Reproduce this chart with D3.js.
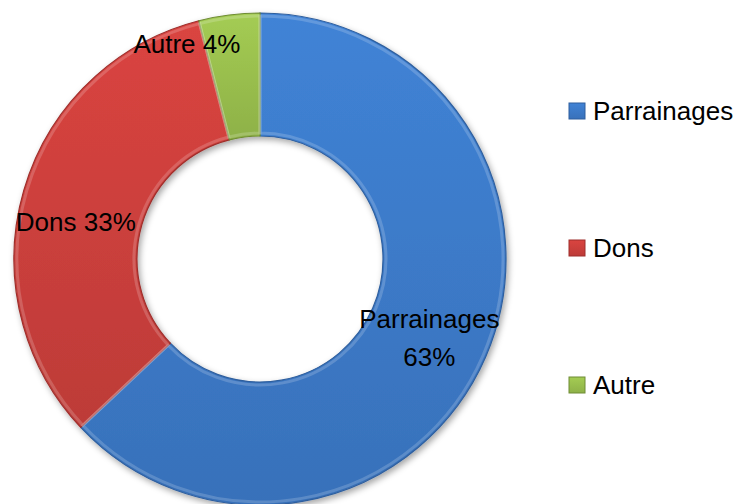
<!DOCTYPE html>
<html>
<head>
<meta charset="utf-8">
<script src="https://cdn.jsdelivr.net/npm/d3@7"></script>
<style>
  body { margin: 0; background: #fff; }
  svg { display: block; font-family: "Liberation Sans", Arial, sans-serif; }
</style>
</head>
<body>
<svg id="drawing_region"></svg>
<script>
// chart data
const categories = ["Parrainages", "Dons", "Autre"];
const values = [63, 33, 4];
const colors = ["#3d7ccb", "#cf403d", "#9bc14f"];
const darkColors = ["#2f5f9e", "#9e2f2c", "#6f8c34"];

const config = {
    width: 734,
    height: 504,
    cx: 260,
    cy: 259,
    outer: 246,
    inner: 123
};

const svg = d3.select('#drawing_region')
    .attr('width', config.width)
    .attr('height', config.height);

const defs = svg.append('defs');

// soft shadow like the Excel bevel style
const shadow = defs.append('filter').attr('id', 'shadow')
    .attr('x', '-10%').attr('y', '-10%').attr('width', '120%').attr('height', '120%');
shadow.append('feDropShadow')
    .attr('dx', 2).attr('dy', 3).attr('stdDeviation', 3)
    .attr('flood-color', '#000').attr('flood-opacity', 0.35);

categories.forEach((c, i) => {
    const g = defs.append('linearGradient')
        .attr('id', 'grad' + i)
        .attr('x1', 0).attr('y1', 0).attr('x2', 0).attr('y2', 1);
    g.append('stop').attr('offset', '0%').attr('stop-color', d3.color(colors[i]).brighter(0.15));
    g.append('stop').attr('offset', '100%').attr('stop-color', d3.color(colors[i]).darker(0.25));
});

const data = categories.map((c, i) => ({ name: c, value: values[i], idx: i }));

const pie = d3.pie().sort(null).value(d => d.value);
const arcs = pie(data);

const arc = d3.arc().innerRadius(config.inner).outerRadius(config.outer);
const bevel = d3.arc().innerRadius(config.inner + 3).outerRadius(config.outer - 3);
const labelArc = d3.arc()
    .innerRadius((config.inner + config.outer) / 2)
    .outerRadius((config.inner + config.outer) / 2);

const chart = svg.append('g')
    .attr('transform', `translate(${config.cx}, ${config.cy})`);

chart.append('g')
    .attr('filter', 'url(#shadow)')
    .selectAll('path')
    .data(arcs)
    .join('path')
    .attr('d', arc)
    .attr('fill', d => `url(#grad${d.data.idx})`)
    .attr('stroke', d => darkColors[d.data.idx])
    .attr('stroke-width', 1.2);

// bevel highlight
chart.append('g')
    .selectAll('path')
    .data(arcs)
    .join('path')
    .attr('d', bevel)
    .attr('fill', 'none')
    .attr('stroke', '#fff')
    .attr('stroke-opacity', 0.18)
    .attr('stroke-width', 3);

// data labels (nudged like Excel's best fit)
const nudge = [[0, 4], [-7, 14], [-50, -32]];
const labels = chart.append('g')
    .selectAll('text')
    .data(arcs)
    .join('text')
    .attr('font-size', 26)
    .attr('fill', '#000')
    .attr('text-anchor', 'middle')
    .attr('transform', d => {
        const [x, y] = labelArc.centroid(d);
        const n = nudge[d.data.idx];
        return `translate(${x + n[0]}, ${y + n[1]})`;
    });

labels.each(function(d) {
    const t = d3.select(this);
    if (d.data.name === "Parrainages") {
        t.append('tspan').attr('x', 0).attr('dy', '-0.3em').text(d.data.name);
        t.append('tspan').attr('x', 0).attr('dy', '1.45em').text(d.data.value + '%');
    } else {
        t.append('tspan').attr('x', 0).attr('dy', '0.35em').text(d.data.name + ' ' + d.data.value + '%');
    }
});

// legend
const legendY = d3.scalePoint()
    .domain(categories)
    .range([111, 385]);

const legend = svg.append('g')
    .selectAll('g')
    .data(data)
    .join('g')
    .attr('transform', d => `translate(569, ${legendY(d.name)})`);

legend.append('rect')
    .attr('x', 0).attr('y', -8)
    .attr('width', 16).attr('height', 16)
    .attr('fill', d => `url(#grad${d.idx})`)
    .attr('stroke', d => darkColors[d.idx])
    .attr('stroke-width', 1);

legend.append('text')
    .attr('x', 24)
    .attr('y', 0)
    .attr('dy', '0.35em')
    .attr('font-size', 26)
    .attr('fill', '#000')
    .text(d => d.name);
</script>
</body>
</html>
